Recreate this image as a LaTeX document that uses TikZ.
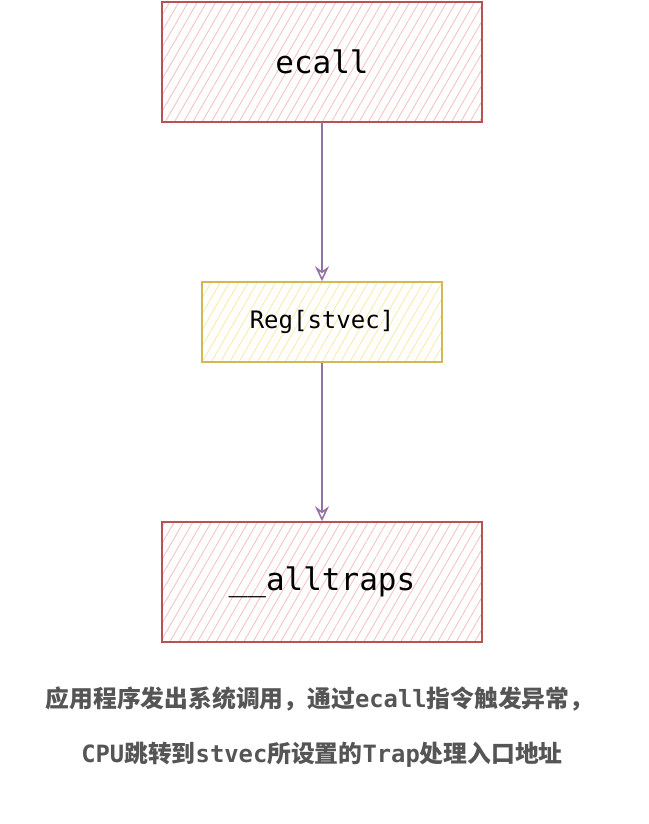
\documentclass[tikz,border=0pt]{standalone}
\usepackage{fontspec}
\setmonofont{DejaVu Sans Mono}
\newfontfamily\cjk{Noto Sans CJK SC}
\usetikzlibrary{patterns.meta,arrows.meta}
\definecolor{redline}{HTML}{B85450}
\definecolor{redfill}{HTML}{F5BEBC}
\definecolor{yelline}{HTML}{D6B656}
\definecolor{yelfill}{HTML}{FBE9A8}
\definecolor{arrowc}{HTML}{9673A6}
\definecolor{captc}{HTML}{555555}
\tikzset{
  redbox/.style={draw=redline, line width=1.5pt, minimum width=320pt, minimum height=120pt, inner sep=0pt,
    pattern={Lines[angle=60,distance=8pt,line width=0.8pt]}, pattern color=redfill,
    font=\ttfamily\fontsize{31}{36}\selectfont},
  yelbox/.style={draw=yelline, line width=1.5pt, minimum width=240pt, minimum height=80pt, inner sep=0pt,
    pattern={Lines[angle=60,distance=8pt,line width=0.8pt]}, pattern color=yelfill,
    font=\ttfamily\fontsize{24}{28}\selectfont},
  flow/.style={draw=arrowc, line width=1.6pt, -{Stealth[open,length=15pt,width=14pt,inset=5pt]}},
  capt/.style={text=captc, font=\bfseries\fontsize{23.8}{28}\selectfont, inner sep=0pt}
}
\begin{document}
\begin{tikzpicture}[x=1pt,y=-1pt]
\useasboundingbox (0,0) rectangle (648,824);
\node[redbox] (ecall) at (322,62) {ecall};
\node[yelbox] (reg) at (322,322) {Reg[stvec]};
\node[redbox] (traps) at (322,582) {\_\_alltraps};
\draw[flow] (ecall.south) -- (reg.north);
\draw[flow] (reg.south) -- (traps.north);
\node[capt] (cap1) at (319.5,699) {{\cjk\bfseries 应用程序发出系统调用，通过}{\ttfamily\bfseries ecall}{\cjk\bfseries 指令触发异常，}};
\node[capt] (cap2) at (322,755) {{\ttfamily\bfseries CPU}{\cjk\bfseries 跳转到}{\ttfamily\bfseries stvec}{\cjk\bfseries 所设置的}{\ttfamily\bfseries Trap}{\cjk\bfseries 处理入口地址}};
\end{tikzpicture}
\end{document}
